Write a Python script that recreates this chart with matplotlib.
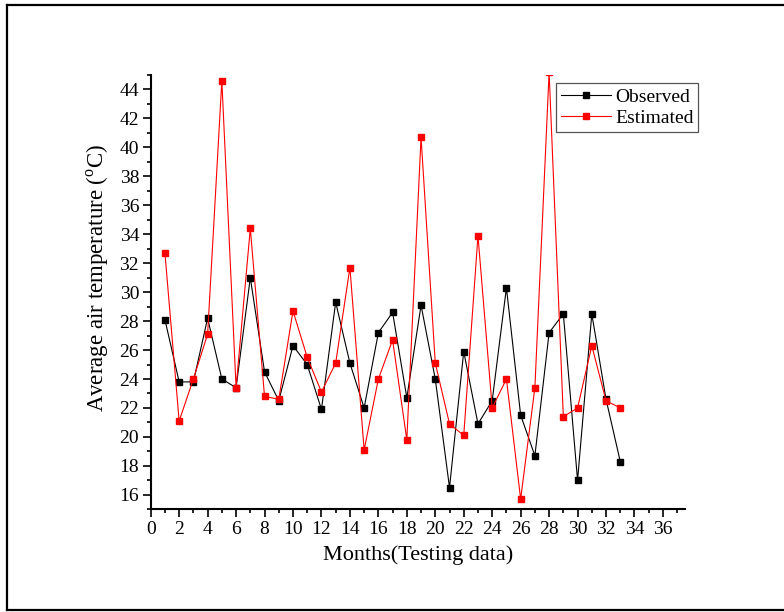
import matplotlib
matplotlib.use("Agg")
import matplotlib.pyplot as plt
from matplotlib.lines import Line2D
from matplotlib.ticker import MultipleLocator

months = list(range(1, 34))
observed = [28.1, 23.8, 23.8, 28.2, 24.0, 23.4, 31.0, 24.5, 22.5, 26.3,
            25.0, 21.9, 29.3, 25.1, 22.0, 27.2, 28.6, 22.7, 29.1, 24.0,
            16.5, 25.9, 20.9, 22.5, 30.3, 21.5, 18.7, 27.2, 28.5, 17.0,
            28.5, 22.6, 18.3]
estimated = [32.7, 21.1, 24.0, 27.1, 44.6, 23.4, 34.4, 22.8, 22.6, 28.7,
             25.5, 23.1, 25.1, 31.7, 19.1, 24.0, 26.7, 19.8, 40.7, 25.1,
             20.9, 20.1, 33.9, 22.0, 24.0, 15.7, 23.4, 45.2, 21.4, 22.0,
             26.3, 22.5, 22.0]
x_ticks = list(range(0, 37, 2))
y_ticks = list(range(16, 45, 2))

plt.rcParams['font.family'] = ['Liberation Serif', 'DejaVu Serif']
plt.rcParams['mathtext.fontset'] = 'custom'
plt.rcParams['mathtext.rm'] = 'Liberation Serif'

W, H = 784, 612
fig = plt.figure(figsize=(W / 100, H / 100), dpi=100)
fig.patch.set_facecolor('white')

# outer frame (right side runs off the canvas)
frame_kw = dict(color='black', linewidth=1.6, transform=fig.transFigure)
fig.add_artist(Line2D([7 / W, 1.01], [1 - 5 / H, 1 - 5 / H], **frame_kw))
fig.add_artist(Line2D([7 / W, 7 / W], [1 - 5 / H, 1 - 610 / H], **frame_kw))
fig.add_artist(Line2D([7 / W, 1.01], [1 - 610 / H, 1 - 610 / H], **frame_kw))

left, right, top, bottom = 150.7, 685, 75, 509.3
ax = fig.add_axes([left / W, 1 - bottom / H, (right - left) / W, (bottom - top) / H])

ax.plot(months, observed, color='black', linewidth=0.8, marker='s',
        markersize=3.8, markerfacecolor='black', markeredgecolor='black',
        label='Observed')
ax.plot(months, estimated, color='red', linewidth=0.8, marker='s',
        markersize=3.8, markerfacecolor='red', markeredgecolor='red',
        label='Estimated')

ax.set_xlim(0, 37.55)
ax.set_ylim(15, 45)
ax.set_xticks(x_ticks)
ax.set_yticks(y_ticks)
ax.xaxis.set_minor_locator(MultipleLocator(1))
ax.yaxis.set_minor_locator(MultipleLocator(1))

for s in ('top', 'right'):
    ax.spines[s].set_visible(False)
for s in ('left', 'bottom'):
    ax.spines[s].set_linewidth(1.5)

ax.tick_params(which='major', direction='out', length=5.8, width=1.2,
               labelsize=14, pad=2.5)
ax.tick_params(which='minor', direction='out', length=3, width=1.2)

ax.set_xlabel('Months(Testing data)', fontsize=16, labelpad=5)
ax.set_ylabel(r'Average air temperature ($^{\rm o}$C)', fontsize=16.5)
ax.yaxis.set_label_coords(-0.075, 0.534)

leg = ax.legend(loc='upper left',
                bbox_to_anchor=(555.7 / W, 1 - 83.3 / H),
                bbox_transform=fig.transFigure,
                fontsize=14, frameon=True, fancybox=False, framealpha=1,
                edgecolor='#555555', handlelength=2.6, handletextpad=0.2,
                borderpad=0.25, labelspacing=0.2, borderaxespad=0)
leg.get_frame().set_linewidth(0.9)

fig.savefig('out.png', dpi=100)
